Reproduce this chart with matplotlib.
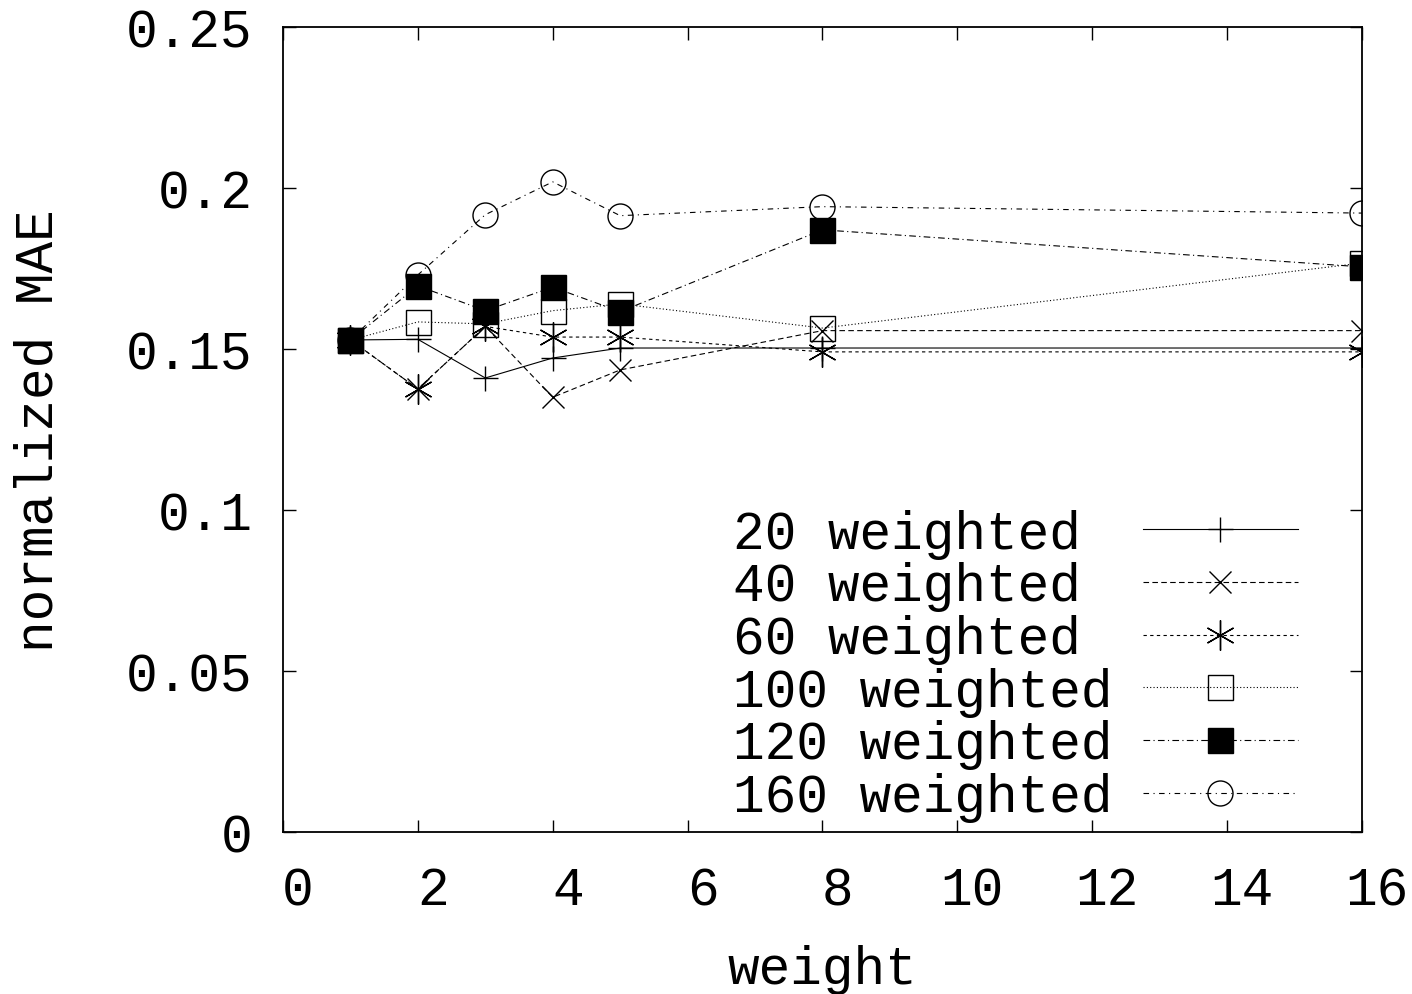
import matplotlib.pyplot as plt
from matplotlib.transforms import ScaledTranslation

# weights on the x axis
weights = [1, 2, 3, 4, 5, 8, 16]

# normalized MAE per neighbourhood size
mae_20 = [0.1528, 0.1530, 0.1410, 0.1472, 0.1503, 0.1503, 0.1503]
mae_40 = [0.1528, 0.1376, 0.1570, 0.1350, 0.1435, 0.1557, 0.1557]
mae_60 = [0.1528, 0.1376, 0.1570, 0.1537, 0.1537, 0.1491, 0.1491]
mae_100 = [0.1528, 0.1584, 0.1578, 0.1619, 0.1640, 0.1565, 0.1767]
mae_120 = [0.1528, 0.1696, 0.1619, 0.1692, 0.1616, 0.1870, 0.1755]
mae_160 = [0.1528, 0.1730, 0.1917, 0.2019, 0.1914, 0.1942, 0.1922]

labels = ["20 weighted", "40 weighted", "60 weighted",
          "100 weighted", "120 weighted", "160 weighted"]
# pad to same width so the mono text lines up on the left
width = max(len(l) for l in labels)
labels = [l.ljust(width) for l in labels]

plt.rcParams["font.family"] = ["Liberation Mono", "DejaVu Sans Mono"]
fs = 38

fig = plt.figure(figsize=(14.12, 9.95), dpi=100)
ax = fig.add_axes([0.2004, 0.1628, 0.7642, 0.8091])

ms = 18
ax.plot(weights, mae_20, color="black", lw=0.8, ls="-",
        marker="+", ms=ms, mew=1, label=labels[0])
ax.plot(weights, mae_40, color="black", lw=0.8, ls=(0, (5, 3)),
        marker="x", ms=ms * 0.9, mew=1, label=labels[1])
ax.plot(weights, mae_60, color="black", lw=0.8, ls=(0, (3, 3)),
        marker=(6, 2, 0), ms=ms * 1.2, mew=1, label=labels[2])
ax.plot(weights, mae_100, color="black", lw=0.8, ls=(0, (1, 2)),
        marker="s", ms=ms, mew=1, mfc="none", label=labels[3])
ax.plot(weights, mae_120, color="black", lw=0.8, ls=(0, (6, 3, 1, 3)),
        marker="s", ms=ms, mew=1, mfc="black", label=labels[4])
ax.plot(weights, mae_160, color="black", lw=0.8, ls=(0, (5, 4, 1, 4)),
        marker="o", ms=ms, mew=1, mfc="none", label=labels[5])

ax.set_xlim(0, 16)
ax.set_ylim(0, 0.25)
ax.set_xticks(range(0, 17, 2))
ax.set_yticks([0, 0.05, 0.1, 0.15, 0.2, 0.25])
ax.set_yticklabels(["0", "0.05", "0.1", "0.15", "0.2", "0.25"])

ax.tick_params(direction="in", length=9, width=1, top=True, right=True,
               labelsize=fs)
ax.tick_params(axis="x", pad=24)
ax.tick_params(axis="y", pad=22)
for s in ax.spines.values():
    s.set_linewidth(1.3)

# gnuplot puts the x labels a bit right of the ticks
shift = ScaledTranslation(0.15, 0, fig.dpi_scale_trans)
for lbl in ax.get_xticklabels():
    lbl.set_transform(lbl.get_transform() + shift)

ax.set_xlabel("weight", fontsize=fs)
ax.set_ylabel("normalized MAE", fontsize=fs)
ax.xaxis.set_label_coords(0.5, -0.139)
ax.yaxis.set_label_coords(-0.203, 0.5)

ax.legend(loc="lower right", bbox_to_anchor=(0.9407, 0.0124),
          frameon=False, markerfirst=False, fontsize=fs,
          handlelength=2.94, handletextpad=0.57, labelspacing=0.05,
          borderpad=0, borderaxespad=0)

fig.savefig("out.png", dpi=100)
